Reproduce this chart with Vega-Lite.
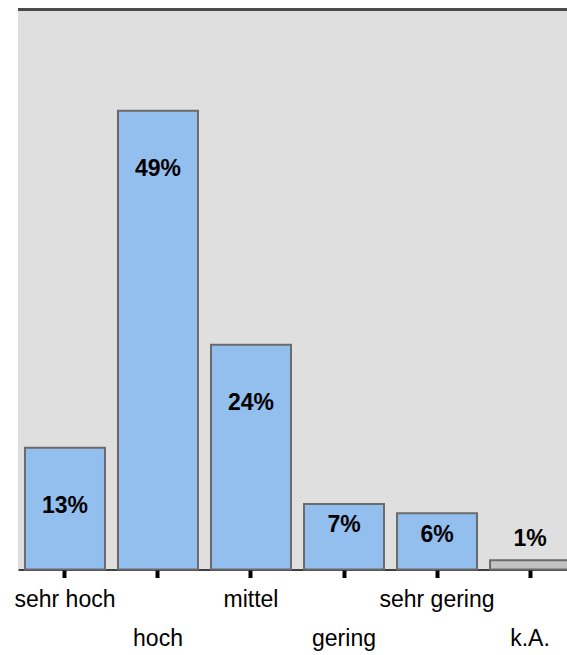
{
  "$schema": "https://vega.github.io/schema/vega-lite/v6.json",
  "width": 559,
  "height": 560,
  "autosize": {"type": "none"},
  "padding": {"left": 18, "top": 9.5, "right": 0, "bottom": 90},
  "background": "white",
  "config": {"view": {"stroke": null, "fill": "#DFDFDF"}, "font": "Liberation Sans"},
  "data": {
    "values": [
      {"cat": "sehr hoch", "value": 13, "label": "13%"},
      {"cat": "hoch", "value": 49, "label": "49%"},
      {"cat": "mittel", "value": 24, "label": "24%"},
      {"cat": "gering", "value": 7, "label": "7%"},
      {"cat": "sehr gering", "value": 6, "label": "6%"},
      {"cat": "k.A.", "value": 1, "label": "1%"}
    ]
  },
  "transform": [
    {"calculate": "datum.value >= 10 ? datum.value - 6.2 : (datum.value >= 3 ? datum.value - 2.3 : datum.value + 2.3)", "as": "labelPos"}
  ],
  "encoding": {
    "x": {
      "field": "cat",
      "type": "nominal",
      "sort": null,
      "scale": {"paddingInner": 0.14, "paddingOuter": 0.075},
      "axis": {
        "title": null,
        "labelAngle": 0,
        "labelFont": "Liberation Sans",
        "labelFontSize": 23,
        "labelColor": "#000000",
        "labelPadding": {"condition": {"test": "indexof(['hoch','gering','k.A.'], datum.value) >= 0", "value": 50}, "value": 11},
        "domainColor": "#000000",
        "domainWidth": 1.5,
        "tickColor": "#000000",
        "tickWidth": 4,
        "tickSize": 8
      }
    }
  },
  "layer": [
    {
      "mark": {"type": "bar", "stroke": "#6B6B6B", "strokeWidth": 2},
      "encoding": {
        "y": {"field": "value", "type": "quantitative", "scale": {"domain": [0, 59.8], "nice": false}, "axis": null},
        "fill": {"condition": {"test": "datum.cat === 'k.A.'", "value": "#C3C3C3"}, "value": "#93BFEF"}
      }
    },
    {
      "mark": {"type": "text", "fontWeight": "bold", "fontSize": 23, "baseline": "middle", "color": "#000000"},
      "encoding": {
        "y": {"field": "labelPos", "type": "quantitative", "scale": {"domain": [0, 59.8], "nice": false}, "axis": null},
        "text": {"field": "label"}
      }
    },
    {
      "mark": {"type": "rule", "color": "#4A4A4A", "strokeWidth": 2},
      "encoding": {
        "x": {"value": 0},
        "x2": {"value": 559},
        "y": {"datum": 59.8, "type": "quantitative", "scale": {"domain": [0, 59.8], "nice": false}}
      }
    }
  ]
}
